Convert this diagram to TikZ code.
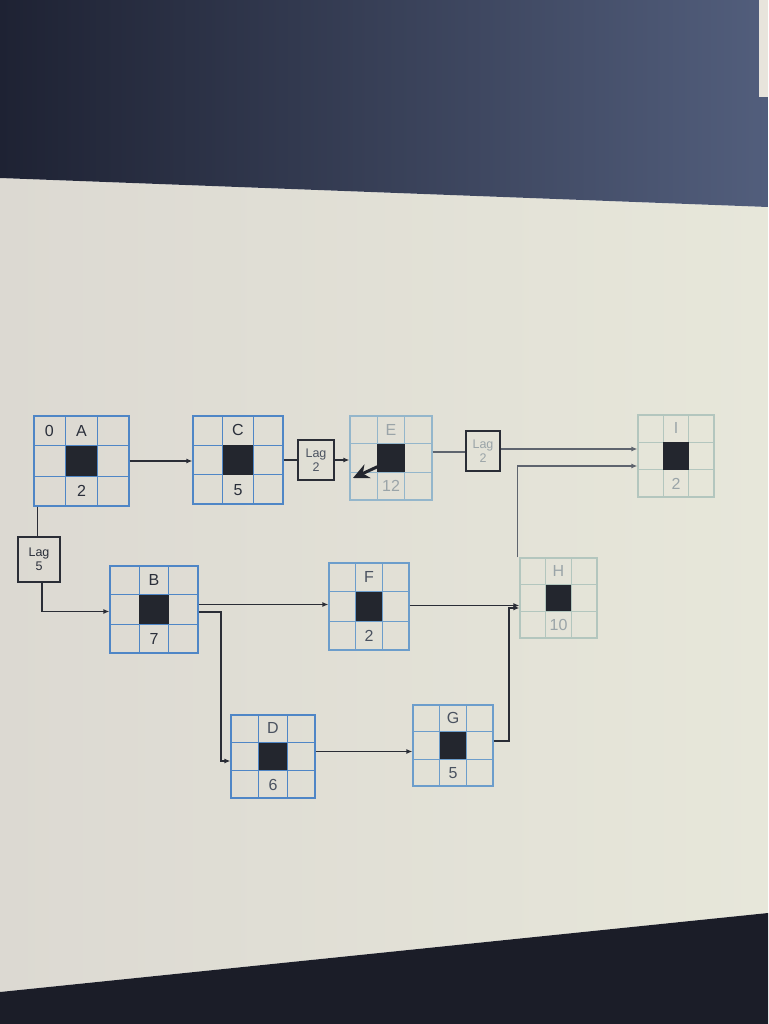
\documentclass[tikz,border=0pt]{standalone}
\usepackage{fontspec}
\setmainfont{Liberation Sans}
\usetikzlibrary{calc,arrows.meta}
\definecolor{gridA}{HTML}{4F86C6}
\definecolor{gridB}{HTML}{6C9DCB}
\definecolor{gridC}{HTML}{94B6CB}
\definecolor{gridD}{HTML}{B3C6BE}
\definecolor{txtA}{HTML}{2A2F3A}
\definecolor{txtB}{HTML}{4A5260}
\definecolor{txtC}{HTML}{9AA4A8}
\definecolor{sq}{HTML}{23262E}
\definecolor{wire}{HTML}{2A2D36}
\definecolor{wirefade}{HTML}{5E646E}
\definecolor{scrL}{HTML}{DCD9D2}
\definecolor{scrR}{HTML}{E7E7DA}
\definecolor{topL}{HTML}{1E2233}
\definecolor{topR}{HTML}{525E7C}
\definecolor{botC}{HTML}{1B1D28}
\definecolor{strip}{HTML}{E8E4DC}
\newcommand\actnode[9]{% name, cx, cy, w, h, gridcolor, textcolor, top, bottom
  \node[draw=#6,line width=1.2pt,minimum width=#4pt,minimum height=#5pt,inner sep=0pt] (#1) at (#2,#3) {};
  \draw[#6,line width=1.2pt]
    ($(#1.north west)!1/3!(#1.north east)$) -- ($(#1.south west)!1/3!(#1.south east)$)
    ($(#1.north west)!2/3!(#1.north east)$) -- ($(#1.south west)!2/3!(#1.south east)$)
    ($(#1.north west)!1/3!(#1.south west)$) -- ($(#1.north east)!1/3!(#1.south east)$)
    ($(#1.north west)!2/3!(#1.south west)$) -- ($(#1.north east)!2/3!(#1.south east)$);
  \node[fill=sq,inner sep=0pt,minimum width={#4pt/3},minimum height={#5pt/3}] (#1sq) at (#1.center) {};
  \node[lbl,text=#7] (#1top) at ($(#1.north)!1/6!(#1.south)$) {#8};
  \node[lbl,text=#7] (#1bot) at ($(#1.south)!1/6!(#1.north)$) {#9};
}
\begin{document}
\begin{tikzpicture}[x=1pt,y=-1pt,
  lbl/.style={inner sep=0pt,font=\fontsize{16}{18}\selectfont},
  lagbox/.style={draw=#1,line width=1.5pt,inner sep=0pt,align=center,font=\fontsize{12.5}{14}\selectfont},
  conn/.style={draw=wire,line width=1.4pt,-{Latex[length=6pt,width=5pt]}},
  plain/.style={draw=wire,line width=1.4pt}]
\useasboundingbox (0,0) rectangle (768,1024);
% photo background
\shade[left color=scrL, right color=scrR]
  (0,178) -- (768,207) -- (768,913) -- (0,992) -- cycle;
\shade[left color=topL, right color=topR]
  (0,0) -- (768,0) -- (768,207) -- (0,178) -- cycle;
\fill[botC] (0,992) -- (768,913) -- (768,1024) -- (0,1024) -- cycle;
\fill[strip] (759,0) rectangle (768,97);
% activity nodes
\actnode{A}{81.5}{461}{95}{90}{gridA}{txtA}{A}{2}
\node[lbl,text=txtA] (Azero) at ($(A.north west)!1/6!(A.south east)$) {0};
\actnode{C}{238}{460}{90}{88}{gridA}{txtA}{C}{5}
\actnode{E}{391}{458}{82}{84}{gridC}{txtC}{E}{12}
\actnode{I}{676}{456}{76}{82}{gridD}{txtC}{I}{2}
\actnode{B}{154}{609.5}{88}{87}{gridA}{txtA}{B}{7}
\actnode{F}{369}{606.5}{80}{87}{gridB}{txtB}{F}{2}
\actnode{H}{558.5}{598}{77}{80}{gridD}{txtC}{H}{10}
\actnode{D}{273}{756.5}{84}{83}{gridA}{txtB}{D}{6}
\actnode{G}{453}{745.5}{80}{81}{gridB}{txtB}{G}{5}
% lag boxes
\node[lagbox=wire,text=txtA,minimum width=42pt,minimum height=45pt] (L5) at (39,559.5) {Lag\\5};
\node[lagbox=wire,text=txtB,minimum width=36pt,minimum height=40pt] (L2a) at (316,460) {Lag\\2};
\node[lagbox=wire,text=txtC,minimum width=34pt,minimum height=40pt] (L2b) at (483,451) {Lag\\2};
% connectors
\draw[conn] (A.east) -- (A.east -| C.west);
\draw[plain] ([xshift=4pt]A.south west) -- ([xshift=4pt]A.south west |- L5.north);
\draw[conn] ([xshift=3pt]L5.south) |- ([yshift=-2pt]B.west);
\draw[plain] (C.east) -- (C.east -| L2a.west);
\draw[conn] (L2a.east) -- (L2a.east -| E.west);
\draw[plain,draw=wirefade] ([yshift=6pt]E.east) -- ([yshift=6pt]E.east -| L2b.west);
\draw[conn,draw=wirefade] ([yshift=2pt]L2b.east) -- ([yshift=2pt]L2b.east -| I.west);
\draw[conn,draw=wirefade] ([xshift=-2pt]H.north west) |- ([yshift=-10pt]I.west);
\coordinate (bd) at (221,612);
\draw[conn] ([yshift=5pt]B.east) -- ([yshift=5pt]B.east -| F.west);
\draw[conn] (B.east |- bd) -- (bd) |- ([yshift=-4.5pt]D.west);
\draw[conn] ([yshift=1pt]F.east) -- ([yshift=1pt]F.east -| H.west);
\draw[conn] ([yshift=5pt]D.east) -- ([yshift=5pt]D.east -| G.west);
\coordinate (gh) at (509,741);
\draw[conn] (G.east |- gh) -- (gh) |- ([yshift=-10pt]H.west);
% cursor arrow in E
\draw[sq,line width=3pt,-{Stealth[length=16pt,width=15pt]}] (379,466) -- (353,478);
\end{tikzpicture}
\end{document}
